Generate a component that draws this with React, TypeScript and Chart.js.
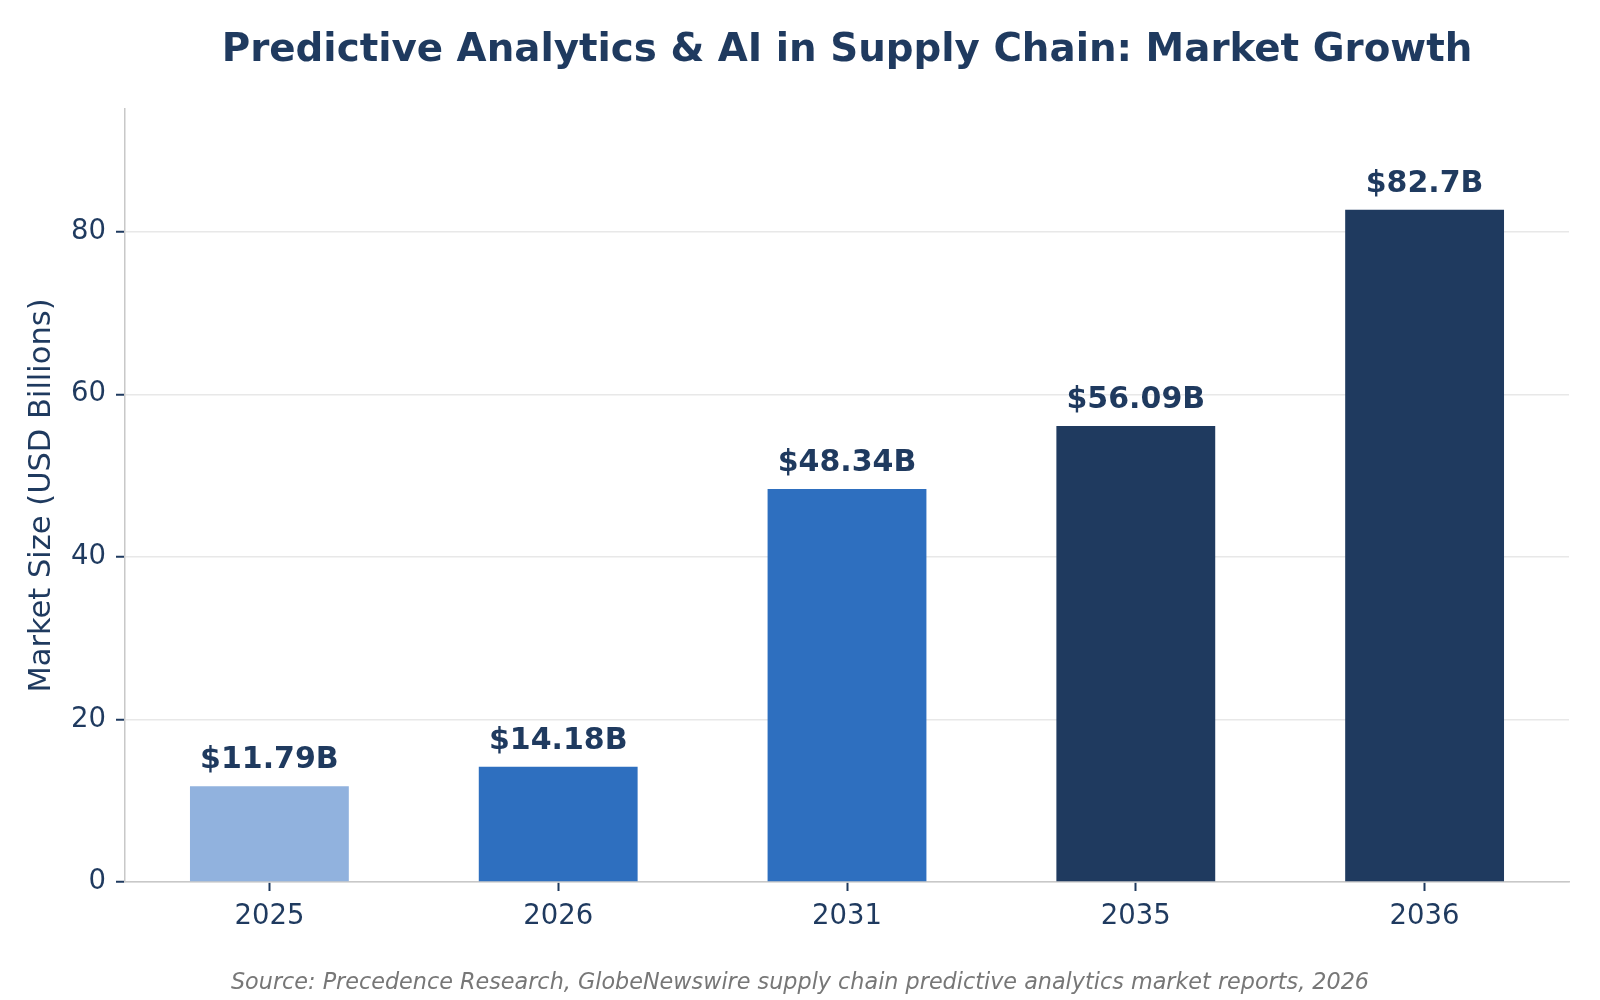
import { Chart, registerables } from "chart.js";
import { useEffect, useRef } from "react";

Chart.register(...registerables);

const years = ["2025", "2026", "2031", "2035", "2036"];
const marketSize = [11.79, 14.18, 48.34, 56.09, 82.7];
const barColors = ["#91b2de", "#2e6fbf", "#2e6fbf", "#1f3a5f", "#1f3a5f"];
const yTicks = [0, 20, 40, 60, 80];
const yMax = 95.1;

const titleText = "Predictive Analytics & AI in Supply Chain: Market Growth";
const sourceText = "Source: Precedence Research, GlobeNewswire supply chain predictive analytics market reports, 2026";

const navy = "#1f3a5f";
const font = "DejaVu Sans";

const textPlugin = {
  id: "textPlugin",
  afterDraw(chart: Chart) {
    const { ctx, chartArea } = chart;
    ctx.save();
    ctx.fillStyle = navy;
    ctx.textAlign = "center";
    ctx.textBaseline = "alphabetic";

    // bar value labels
    ctx.font = `bold 30px '${font}'`;
    const meta = chart.getDatasetMeta(0);
    meta.data.forEach((bar: any, i: number) => {
      ctx.fillText(`$${marketSize[i]}B`, bar.x, bar.y - 18);
    });

    // title, centred over the plot area
    ctx.font = `bold 38.8px '${font}'`;
    ctx.fillText(titleText, (chartArea.left + chartArea.right) / 2, 61);

    // source note
    ctx.fillStyle = "#777777";
    ctx.font = `italic 22.3px '${font}'`;
    ctx.fillText(sourceText, chart.width / 2, 989);
    ctx.restore();
  },
};

export default function App() {
  const canvasRef = useRef<HTMLCanvasElement | null>(null);
  const chartRef = useRef<Chart<"bar", number[], string> | null>(null);

  useEffect(() => {
    document.body.style.margin = "0";
    const ctx = canvasRef.current?.getContext("2d");
    if (!ctx) return;

    chartRef.current = new Chart(ctx, {
      type: "bar",
      data: {
        labels: years,
        datasets: [
          {
            data: marketSize,
            backgroundColor: barColors,
            borderWidth: 0,
            barPercentage: 0.55,
            categoryPercentage: 1,
          },
        ],
      },
      options: {
        animation: false,
        responsive: true,
        maintainAspectRatio: false,
        layout: { padding: { top: 109, right: 31, left: 0, bottom: 0 } },
        plugins: {
          legend: { display: false },
          tooltip: { enabled: false },
        },
        scales: {
          x: {
            afterFit: (scale: any) => {
              scale.height = 118;
            },
            grid: {
              offset: false,
              drawOnChartArea: false,
              tickLength: 9,
              tickColor: navy,
              tickWidth: 2,
            },
            border: { color: "#c8c8c8", width: 1.5 },
            ticks: {
              color: navy,
              font: { family: font, size: 27.5 },
              padding: 9,
            },
          },
          y: {
            min: 0,
            max: yMax,
            afterFit: (scale: any) => {
              scale.width = 125;
            },
            afterBuildTicks: (scale: any) => {
              scale.ticks = yTicks.map((v) => ({ value: v }));
            },
            grid: {
              color: "#e8e8e8",
              lineWidth: 1.5,
              tickLength: 9,
              tickColor: navy,
              tickWidth: 2,
            },
            border: { color: "#c8c8c8", width: 1.5 },
            ticks: {
              color: navy,
              font: { family: font, size: 27.5 },
              padding: 10,
            },
            title: {
              display: true,
              text: "Market Size (USD Billions)",
              color: navy,
              font: { family: font, size: 30.5 },
              padding: { top: 24, bottom: 0 },
            },
          },
        },
      },
      plugins: [textPlugin],
    });

    return () => {
      chartRef.current?.destroy();
    };
  }, []);

  return (
    <div style={{ width: 1600, height: 1000, background: "#ffffff" }}>
      <canvas ref={canvasRef} />
    </div>
  );
}
